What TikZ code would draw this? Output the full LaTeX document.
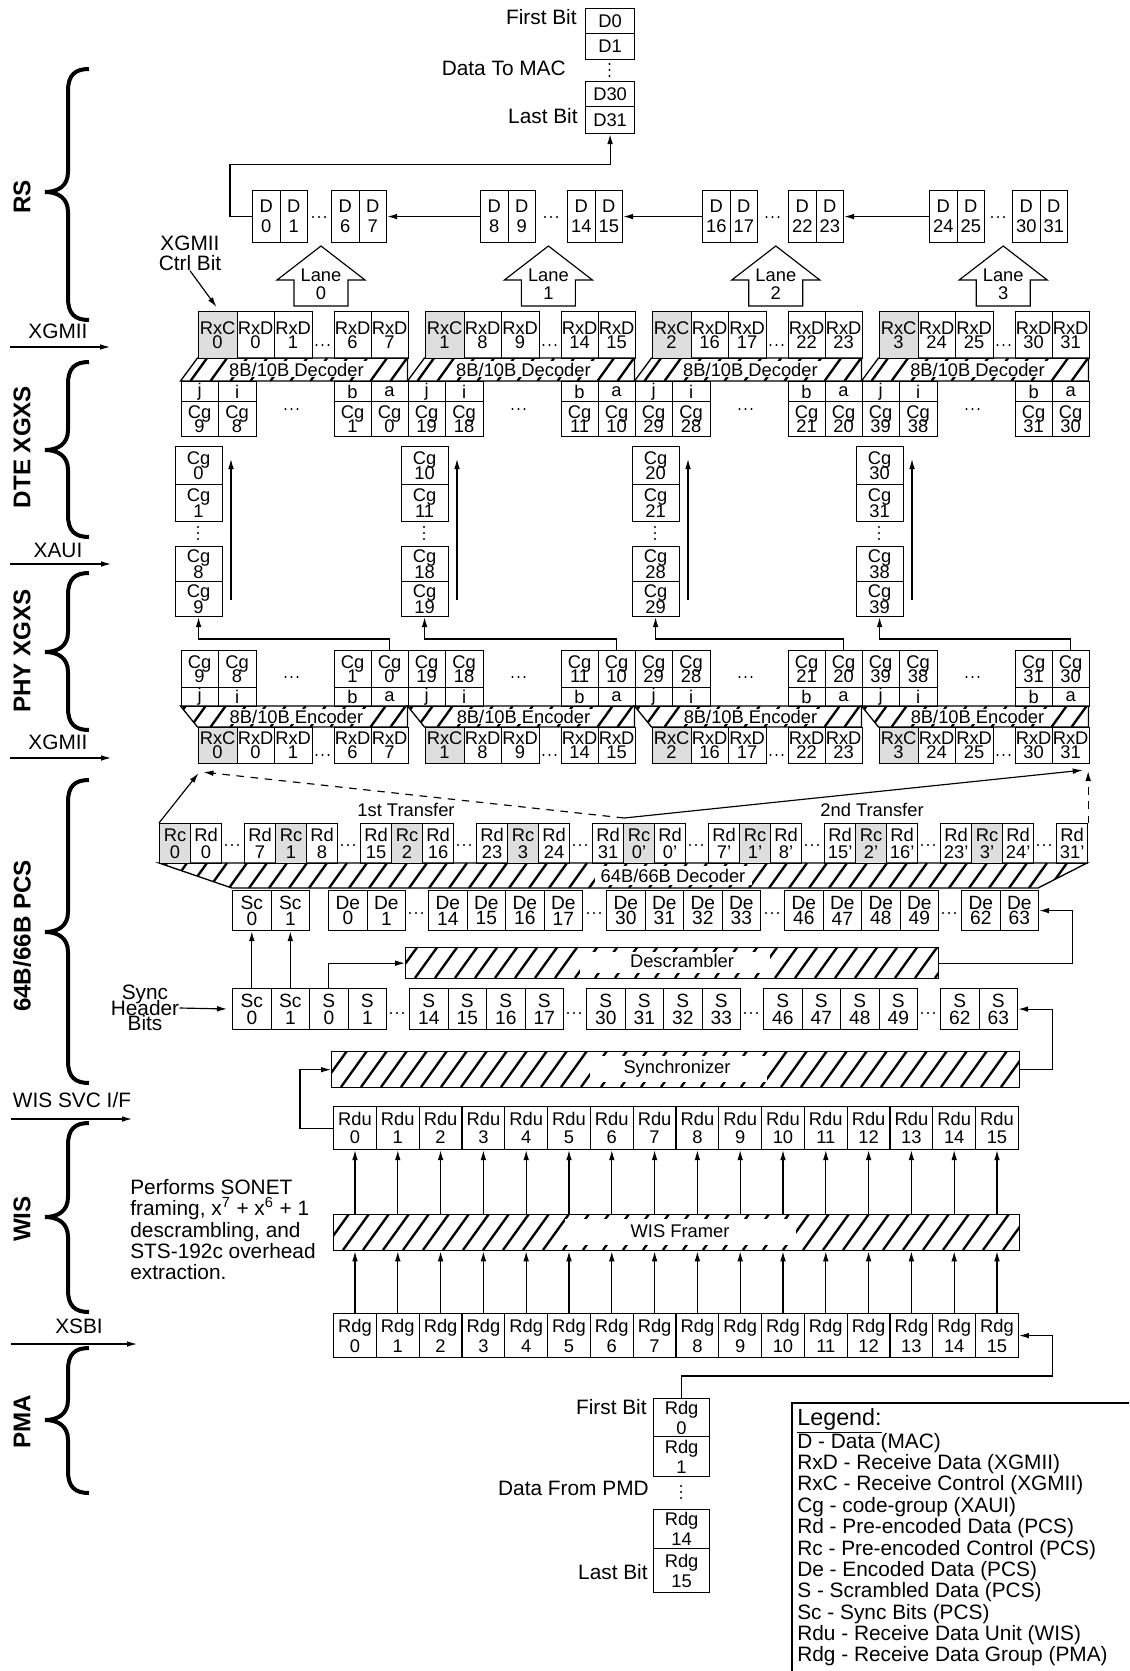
\documentclass[tikz,border=0pt]{standalone}
\usepackage{fontspec}
\setmainfont{Liberation Sans}
\usetikzlibrary{arrows.meta,calc}
\lineskiplimit=-100pt
\tikzset{
 cell/.style={draw, line width=0.7pt, inner sep=0pt, align=center, font=\fontsize{11}{9}\selectfont},
 bs/.style={font=\fontsize{11}{#1}\selectfont},
 bsl/.style={font=\fontsize{11.5}{#1}\selectfont},
 gc/.style={fill=black!13},
 arr/.style={-{Latex[length=6pt,width=3.4pt]}, line width=0.7pt},
 hatch/.style={line width=1.4pt},
 band/.style={draw, line width=0.8pt},
 lbl/.style={font=\fontsize{12.5}{12.8}\selectfont, inner sep=0pt},
 side/.style={rotate=90, font=\bfseries\fontsize{14.5}{15}\selectfont, inner sep=0pt},
 brace/.style={line width=2.4pt},
 ttl/.style={font=\fontsize{11}{11}\selectfont, inner sep=0pt},
}
\newcommand\bx[7][]{\node[cell,#1,anchor=north west,minimum width=#5*0.6pt,minimum height=#6*0.6pt] (#2) at (#3,#4) {#7};}
\newcommand\hdts[2]{\foreach \q in {-6,0,6}{\fill (#1+\q,#2) circle (0.7pt);}}
\newcommand\vdts[2]{\foreach \q in {-6,0,6}{\fill (#1,#2+\q) circle (0.7pt);}}
\newcommand\hatchband[5]{%
 \begin{scope}
 \clip #1;
 \pgfmathsetmacro\hh{#5-#4}
 \pgfmathtruncatemacro\nn{(#3-#2+60)/20}
 \foreach \k in {0,...,\nn}{\pgfmathsetmacro\hx{#2-30+20*\k}\draw[hatch] (\hx,#5) -- ++(0.72*\hh,-\hh);}
 \end{scope}}
\newcommand\brc[3]{\draw[brace] (89,#1) .. controls (75,#1) and (68,#1+6) .. (68,#1+22) -- (68,#2-20) .. controls (68,#2-6) and (58,#2) .. (45,#2) .. controls (58,#2) and (68,#2+6) .. (68,#2+20) -- (68,#3-22) .. controls (68,#3-6) and (75,#3) .. (89,#3);}
\begin{document}
\begin{tikzpicture}[x=0.6pt,y=-0.6pt]
\useasboundingbox (0,0) rectangle (1129,1671);
\clip (0,0) rectangle (1129,1671);
\fill[white] (0,0) rectangle (1129,1671);

% ---------- side labels, braces, interfaces
\node[side] (sRS) at (22,197) {RS};
\node[side] (sDTE) at (22,447) {DTE XGXS};
\node[side] (sPHY) at (22,651) {PHY XGXS};
\node[side] (sPCS) at (22,936) {64B/66B PCS};
\node[side] (sWIS) at (22,1219) {WIS};
\node[side] (sPMA) at (22,1422) {PMA};
\brc{69}{192}{320}
\brc{362}{450}{537}
\brc{573}{652}{730}
\brc{780}{932}{1083}
\brc{1123}{1217}{1312}
\brc{1348}{1420}{1493}
\node[lbl] (ifa) at (58,331) {XGMII};
\coordinate (ifa1) at (10,347); \coordinate (ifa2) at (110,347);
\draw[arr] (ifa1) -- (ifa2);
\node[lbl] (ifb) at (58,550) {XAUI};
\coordinate (ifb1) at (10,564); \coordinate (ifb2) at (111,564);
\draw[arr] (ifb1) -- (ifb2);
\node[lbl] (ifc) at (58,742) {XGMII};
\coordinate (ifc1) at (10,758); \coordinate (ifc2) at (111,758);
\draw[arr] (ifc1) -- (ifc2);
\node[lbl] (ifd) at (72,1100) {WIS SVC I/F};
\coordinate (ifd1) at (11,1119); \coordinate (ifd2) at (132,1119);
\draw[arr] (ifd1) -- (ifd2);
\node[lbl] (ife) at (79,1326) {XSBI};
\coordinate (ife1) at (11,1344); \coordinate (ife2) at (137,1344);
\draw[arr] (ife1) -- (ife2);

% ---------- top stack (to MAC)
\bx[bs=11]{td0}{585}{8}{49}{25}{D0}
\bx[bs=11]{td1}{585}{33}{49}{26}{D1}
\vdts{609.5}{70}
\bx[bs=11]{td30}{585}{81}{49}{25}{D30}
\bx[bs=11]{td31}{585}{106}{49}{27}{D31}
\node[lbl,anchor=east] (tfb) at (577,17) {First Bit};
\node[lbl,anchor=east] (tdm) at (566,68) {Data To MAC};
\node[lbl,anchor=east] (tlb) at (578,116) {Last Bit};

% ---------- RS
\foreach \L/\ga/\gb in {0/252/331,1/480/567,2/702/788,3/929/1012}{
 \pgfmathtruncatemacro\nA{8*\L}
 \pgfmathtruncatemacro\nB{8*\L+1}
 \pgfmathtruncatemacro\nC{8*\L+6}
 \pgfmathtruncatemacro\nD{8*\L+7}
 \bx[bs=12]{rsa\L}{\ga}{190}{27.5}{52}{D\\\nA}
 \bx[bs=12]{rsb\L}{\ga+27.5}{190}{27.5}{52}{D\\\nB}
 \bx[bs=12]{rsc\L}{\gb}{190}{27.5}{52}{D\\\nC}
 \bx[bs=12]{rsd\L}{\gb+27.5}{190}{27.5}{52}{D\\\nD}
 \pgfmathsetmacro\dx{(\ga+55+\gb)/2}
 \hdts{\dx}{217}
}
\draw[arr] (rsa1.west) -- (rsd0.east);
\draw[arr] (rsa2.west) -- (rsd1.east);
\draw[arr] (rsa3.west) -- (rsd2.east);
\draw[arr] (rsa0.west) -- ++(-22,0) -- ++(0,-52) -| (td31.south);

% ---------- lane arrows
\foreach \L in {0,...,3}{
 \pgfmathsetmacro\cx{321+227.4*\L}
 \draw[line width=0.7pt] (\cx,246) -- (\cx+44,280) -- (\cx+27,280) -- (\cx+27,306) -- (\cx-27,306) -- (\cx-27,280) -- (\cx-44,280) -- cycle;
 \node[font=\fontsize{11}{10.8}\selectfont, align=center, inner sep=0pt] (ln\L) at (\cx,284) {Lane\\\L};
}

% ---------- DTE XGXS
\foreach \L in {0,1,2,3}{
 \pgfmathsetmacro\xL{180.5+227*\L}
 \pgfmathtruncatemacro\cA{10*\L+9}
 \pgfmathtruncatemacro\cB{10*\L+8}
 \pgfmathtruncatemacro\cC{10*\L+1}
 \pgfmathtruncatemacro\cD{10*\L}
 \pgfmathtruncatemacro\dA{8*\L}
 \pgfmathtruncatemacro\dB{8*\L+1}
 \pgfmathtruncatemacro\dC{8*\L+6}
 \pgfmathtruncatemacro\dD{8*\L+7}
 \hatchband{(\xL,381) -- (\xL+17,358) -- (\xL+227,358) -- (\xL+227,381) -- cycle}{\xL}{\xL+227}{358}{381}
 \fill[white] (\xL+45,361.5) rectangle (\xL+188,377.5);
 \draw[band] (\xL,381) -- (\xL+17,358) -- (\xL+227,358) -- (\xL+227,381) -- cycle;
 \node[ttl] (dec\L) at (\xL+116,370) {8B/10B Decoder};
 \bx[gc,bs=8.6]{dtc\L}{\xL+17}{311}{39}{47}{RxC\\\L}
 \bx[bs=8.6]{dta\L}{\xL+56}{311}{37}{47}{RxD\\\dA}
 \bx[bs=8.6]{dtb\L}{\xL+93}{311}{38}{47}{RxD\\\dB}
 \hdts{\xL+142}{345}
 \bx[bs=8.6]{dtd\L}{\xL+153}{311}{37}{47}{RxD\\\dC}
 \bx[bs=8.6]{dte\L}{\xL+190}{311}{37}{47}{RxD\\\dD}
 \bx{dja\L}{\xL}{381}{37}{20}{j}
 \bx{djb\L}{\xL+37}{381}{38}{20}{i}
 \bx{djc\L}{\xL+153}{381}{37}{20}{b}
 \bx{djd\L}{\xL+190}{381}{37}{20}{a}
 \bx[bs=8.8]{dga\L}{\xL}{401}{37}{35}{Cg\\\cA}
 \bx[bs=8.8]{dgb\L}{\xL+37}{401}{38}{35}{Cg\\\cB}
 \hdts{\xL+111}{409}
 \bx[bs=8.8]{dgc\L}{\xL+153}{401}{37}{35}{Cg\\\cC}
 \bx[bs=8.8]{dgd\L}{\xL+190}{401}{37}{35}{Cg\\\cD}
}
\node[lbl, align=center, font=\fontsize{12.5}{12}\selectfont] (ctrl) at (190,253) {XGMII\\Ctrl Bit};
\draw[arr] (ctrl.south) -- ($(dtc0.north west)+(19,-4)$);

% ---------- PHY XGXS
\foreach \L in {0,1,2,3}{
 \pgfmathsetmacro\xL{180.5+227*\L}
 \pgfmathtruncatemacro\cA{10*\L+9}
 \pgfmathtruncatemacro\cB{10*\L+8}
 \pgfmathtruncatemacro\cC{10*\L+1}
 \pgfmathtruncatemacro\cD{10*\L}
 \pgfmathtruncatemacro\dA{8*\L}
 \pgfmathtruncatemacro\dB{8*\L+1}
 \pgfmathtruncatemacro\dC{8*\L+6}
 \pgfmathtruncatemacro\dD{8*\L+7}
 \hatchband{(\xL,706) -- (\xL+227,706) -- (\xL+227,727) -- (\xL+17,727) -- cycle}{\xL}{\xL+227}{706}{727}
 \fill[white] (\xL+45,709) rectangle (\xL+188,724);
 \draw[band] (\xL,706) -- (\xL+227,706) -- (\xL+227,727) -- (\xL+17,727) -- cycle;
 \node[ttl] (enc\L) at (\xL+116,717) {8B/10B Encoder};
 \bx[bs=8.4]{pga\L}{\xL}{650}{37}{37}{Cg\\\cA}
 \bx[bs=8.4]{pgb\L}{\xL+37}{650}{38}{37}{Cg\\\cB}
 \hdts{\xL+111}{677}
 \bx[bs=8.4]{pgc\L}{\xL+153}{650}{37}{37}{Cg\\\cC}
 \bx[bs=8.4]{pgd\L}{\xL+190}{650}{37}{37}{Cg\\\cD}
 \bx{pja\L}{\xL}{687}{37}{19}{j}
 \bx{pjb\L}{\xL+37}{687}{38}{19}{i}
 \bx{pjc\L}{\xL+153}{687}{37}{19}{b}
 \bx{pjd\L}{\xL+190}{687}{37}{19}{a}
 \bx[gc,bs=8.4]{pxc\L}{\xL+17}{727}{39}{36}{RxC\\\L}
 \bx[bs=8.4]{pxa\L}{\xL+56}{727}{37}{36}{RxD\\\dA}
 \bx[bs=8.4]{pxb\L}{\xL+93}{727}{38}{36}{RxD\\\dB}
 \hdts{\xL+142}{755}
 \bx[bs=8.4]{pxd\L}{\xL+153}{727}{37}{36}{RxD\\\dC}
 \bx[bs=8.4]{pxe\L}{\xL+190}{727}{37}{36}{RxD\\\dD}
}

% ---------- XAUI stacks
\foreach \L/\cxs in {0/198,1/424,2/655,3/879}{
 \pgfmathsetmacro\sxx{\cxs-23.5}
 \pgfmathtruncatemacro\nA{10*\L}
 \pgfmathtruncatemacro\nB{10*\L+1}
 \pgfmathtruncatemacro\nC{10*\L+8}
 \pgfmathtruncatemacro\nD{10*\L+9}
 \bx[bs=9.4]{sta\L}{\sxx}{446}{47}{38}{Cg\\\nA}
 \bx[bs=9.4]{stb\L}{\sxx}{484}{47}{37}{Cg\\\nB}
 \vdts{\cxs}{533}
 \bx[bs=9.4]{stc\L}{\sxx}{546}{47}{35}{Cg\\\nC}
 \bx[bs=9.4]{std\L}{\sxx}{581}{47}{35}{Cg\\\nD}
 \coordinate (ua\L) at (\cxs+33,600);
 \coordinate (ub\L) at (\cxs+33,459);
 \draw[arr] (ua\L) -- (ub\L);
 \draw[arr] (pgd\L.north) -- ++(0,-11) -| (std\L.south);
}

% ---------- 64B/66B decoder and Rd row
\hatchband{(159,863) -- (1087,863) -- (1038,888) -- (232,888) -- cycle}{159}{1087}{863}{888}
\fill[white] (595,866) rectangle (752,885);
\draw[band] (159,863) -- (1087,863) -- (1038,888) -- (232,888) -- cycle;
\node[ttl] (d66) at (673,876) {64B/66B Decoder};
\bx[gc,bs=10]{rc0}{159}{823}{31}{40}{Rc\\0}
\bx[bs=10]{rd0}{190}{823}{31}{40}{Rd\\0}
\hdts{232}{845}
\foreach \tri/\va/\vb/\vc in {1/7/1/8,2/15/2/16,3/23/3/24,4/31/0'/0',5/7'/1'/8',6/15'/2'/16',7/23'/3'/24'}{
 \pgfmathsetmacro\sxx{244+116*(\tri-1)}
 \bx[bs=10]{rdA\tri}{\sxx}{823}{31}{40}{Rd\\\va}
 \bx[gc,bs=10]{rc\tri}{\sxx+31}{823}{31}{40}{Rc\\\vb}
 \bx[bs=10]{rdB\tri}{\sxx+62}{823}{31}{40}{Rd\\\vc}
 \pgfmathsetmacro\dx{\sxx+104}
 \hdts{\dx}{845}
}
\bx[bs=10]{rdE}{1056}{823}{31}{40}{Rd\\31'}
\node[ttl] (t1) at (406,810) {1st Transfer};
\node[ttl] (t2) at (872,810) {2nd Transfer};
\coordinate (jn) at ($(rdA4.north east)+(0,-5)$);
\draw[arr] (rc0.north west) -- ($(pxc0.south west)+(1,9)$);
\draw[arr,dash pattern=on 4.5pt off 4pt] (jn) -- ($(pxc0.south west)+(6,8)$);
\draw[arr] (jn) -- ($(pxe3.south east)+(-7,6)$);
\draw[arr,dash pattern=on 4.5pt off 4pt] (rdE.north east) -- ++(0,-52);

% ---------- De row
\bx[bsl=9.4]{dsc0}{232}{890}{38.5}{40}{Sc\\0}
\bx[bsl=9.4]{dsc1}{270.5}{890}{38.5}{40}{Sc\\1}
\bx[bsl=9.4]{de0}{328}{890}{38.5}{40}{De\\0}
\bx[bsl=9.4]{de1}{366.5}{890}{38.5}{40}{De\\1}
\foreach \g/\st in {14/428,30/606,46/784}{
 \foreach \k in {0,1,2,3}{
  \pgfmathtruncatemacro\nm{\g+\k}
  \pgfmathsetmacro\bxx{\st+38.5*\k}
  \bx[bsl=9.4]{de\nm}{\bxx}{890}{38.5}{40}{De\\\nm}
 }}
\bx[bsl=9.4]{de62}{961}{890}{38.5}{40}{De\\62}
\bx[bsl=9.4]{de63}{999.5}{890}{38.5}{40}{De\\63}
\foreach \dxx in {416,594,772,949}{\hdts{\dxx}{913}}

% ---------- Descrambler
\hatchband{(405,947) rectangle (938,978)}{405}{938}{947}{978}
\fill[white] (580,952) rectangle (770,973);
\node[band, anchor=north west, minimum width=533*0.6pt, minimum height=31*0.6pt, inner sep=0pt] (desc) at (405,947) {};
\node[ttl] (descl) at (682,961) {Descrambler};

% ---------- S row
\bx[bsl=10]{ssc0}{232}{988}{38.5}{41}{Sc\\0}
\bx[bsl=10]{ssc1}{270.5}{988}{38.5}{41}{Sc\\1}
\bx[bsl=10]{s0}{309}{988}{38.5}{41}{S\\0}
\bx[bsl=10]{s1}{347.5}{988}{38.5}{41}{S\\1}
\foreach \g/\st in {14/409,30/586,46/763}{
 \foreach \k in {0,1,2,3}{
  \pgfmathtruncatemacro\nm{\g+\k}
  \pgfmathsetmacro\bxx{\st+38.5*\k}
  \bx[bsl=10]{s\nm}{\bxx}{988}{38.5}{41}{S\\\nm}
 }}
\bx[bsl=10]{s62}{940}{988}{38.5}{41}{S\\62}
\bx[bsl=10]{s63}{978.5}{988}{38.5}{41}{S\\63}
\foreach \dxx in {397,574,751,928}{\hdts{\dxx}{1013}}
\node[align=center, font=\fontsize{12.5}{9.2}\selectfont, inner sep=0pt] (sh) at (145,1008) {Sync\\Header\\Bits};
\draw[arr, shorten >=3pt] (sh.east) -- (ssc0.west);
\draw[arr] (ssc0.north) -- (dsc0.south);
\draw[arr] (ssc1.north) -- (dsc1.south);
\draw[arr] (s0.north) |- (desc.west);
\draw[arr] (desc.east) -- ++(133,0) |- (de63.east);

% ---------- Synchronizer
\hatchband{(331,1051) rectangle (1019,1087)}{331}{1019}{1051}{1087}
\fill[white] (590,1056) rectangle (767,1082);
\node[band, anchor=north west, minimum width=688*0.6pt, minimum height=36*0.6pt, inner sep=0pt] (sync) at (331,1051) {};
\node[ttl] (syncl) at (677,1069) {Synchronizer};
\draw[arr] (sync.east) -- ++(32,0) |- (s63.east);

% ---------- Rdu / WIS framer / Rdg
\foreach \k in {0,...,15}{
 \pgfmathsetmacro\bxx{333+42.8*\k}
 \bx[bs=10.8]{rdu\k}{\bxx}{1106}{42.8}{43}{Rdu\\\k}
 \bx[bs=12]{rdg\k}{\bxx}{1313}{42.8}{44}{Rdg\\\k}
}
\draw[arr] (rdu0.west) -- ++(-33,0) |- (sync.west);
\hatchband{(333,1214) rectangle (1019,1250)}{333}{1019}{1214}{1250}
\fill[white] (565,1219) rectangle (796,1245);
\node[band, anchor=north west, minimum width=686*0.6pt, minimum height=36*0.6pt, inner sep=0pt] (frm) at (333,1214) {};
\node[ttl] (frml) at (680,1231) {WIS Framer};
\foreach \k in {0,...,15}{
 \draw[arr] (frm.north -| rdu\k.south) -- (rdu\k.south);
 \draw[arr] (rdg\k.north) -- (frm.south -| rdg\k.north);
}
\node[lbl,anchor=base west] (p1) at (130,1194) {Performs SONET};
\node[lbl,anchor=base west] (p2) at (130,1215) {framing, x\textsuperscript{7} + x\textsuperscript{6} + 1};
\node[lbl,anchor=base west] (p3) at (130,1237) {descrambling, and};
\node[lbl,anchor=base west] (p4) at (130,1258) {STS-192c overhead};
\node[lbl,anchor=base west] (p5) at (130,1279) {extraction.};

% ---------- PMA stack
\bx[bs=12]{bs0}{653}{1398}{56}{38}{Rdg\\0}
\bx[bs=12]{bs1}{653}{1436}{56}{40}{Rdg\\1}
\vdts{681}{1492}
\bx[bs=12]{bs14}{653}{1509}{56}{39}{Rdg\\14}
\bx[bs=12]{bs15}{653}{1548}{56}{44}{Rdg\\15}
\draw[arr] (bs0.north) -- ++(0,-22) -- ++(371,0) |- (rdg15.east);
\node[lbl,anchor=east] (bfb) at (647,1407) {First Bit};
\node[lbl,anchor=east] (bdp) at (649,1488) {Data From PMD};
\node[lbl,anchor=east] (blb) at (648,1572) {Last Bit};

% ---------- Legend
\draw[line width=1.4pt] (792,1403) rectangle (1200,1720);
\node[anchor=base west, inner sep=0pt, font=\fontsize{14}{14}\selectfont] (lg0) at (797,1425) {\underline{Legend:}};
\foreach \yy/\tx [count=\i] in {1448/D - Data (MAC), 1469/RxD - Receive Data (XGMII), 1490/RxC - Receive Control (XGMII), 1512/Cg - code-group (XAUI), 1533/Rd - Pre-encoded Data (PCS), 1555/Rc - Pre-encoded Control (PCS), 1576/De - Encoded Data (PCS), 1597/S - Scrambled Data (PCS), 1619/Sc - Sync Bits (PCS), 1640/Rdu - Receive Data Unit (WIS), 1661/Rdg - Receive Data Group (PMA)}{
 \node[lbl,anchor=base west] (lg\i) at (797,\yy) {\tx};
}
\end{tikzpicture}
\end{document}
